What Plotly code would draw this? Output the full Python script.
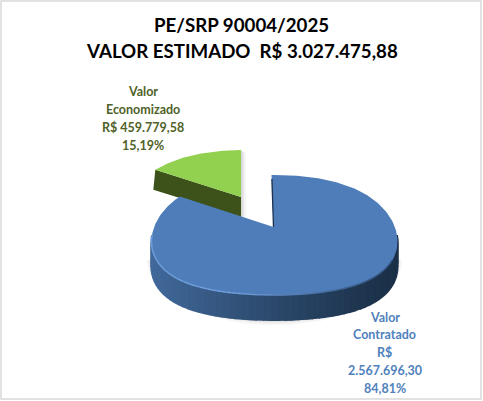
import numpy as np
import plotly.graph_objects as go

# Data
categories = ["Valor Contratado", "Valor Economizado"]
values = [2567696.30, 459779.58]
value_labels = [["R$", "2.567.696,30"], ["R$ 459.779,58"]]
percent_labels = ["84,81%", "15,19%"]
title_lines = ["PE/SRP 90004/2025", "VALOR ESTIMADO  R$ 3.027.475,88"]

W, H = 483, 401
total = sum(values)
sweep = [v / total * 2 * np.pi for v in values]

BLUE_TOP, GREEN_TOP = "#4f7db9", "#92d050"
GREEN_WALL = "#3c521a"
FONT = "Lato"


def mix(a, b, t):
    t = min(1, max(0, t))
    pa = [int(a[i:i + 2], 16) for i in (1, 3, 5)]
    pb = [int(b[i:i + 2], 16) for i in (1, 3, 5)]
    return "rgb(%d,%d,%d)" % tuple(round(x + (y - x) * t) for x, y in zip(pa, pb))


def ell(cx, cy, rx, ry, th, k=0.0, q=0.0):
    # k and q add a slight perspective: the far half of the disc is narrower
    c, s = np.cos(th), np.sin(th)
    return cx + rx * s * (1 - k * c), cy - ry * c - q * s * s * c


def poly(xs, ys, fill, line=None, width=0, opacity=1.0):
    return go.Scatter(
        x=list(xs), y=list(ys), mode="lines", fill="toself", fillcolor=fill,
        line=dict(color=line or fill, width=width), opacity=opacity,
        hoverinfo="skip", showlegend=False,
    )


fig = go.Figure()

# ---- slice geometry (pixel space) ----
b = dict(cx=274.5, cy=235, rx=122.5, ry=60, k=0.094, q=10)
depth_b = 25
apex = (273.5, 227)
g = dict(cx=241, cy=197, rx=105, ry=47)
depth_g = 20

# soft shadows
for grow, op in ((5, 0.04), (3, 0.05), (1.5, 0.07)):
    th = np.linspace(np.pi / 2, 3 * np.pi / 2, 60)
    x, y = ell(b["cx"], b["cy"] + depth_b, b["rx"] + grow, b["ry"] + grow, th)
    fig.add_trace(poly(x, y, "#000000", opacity=op))
    fig.add_trace(poly(
        [g["cx"], g["cx"] + grow, g["cx"] + grow, g["cx"]],
        [g["cy"] - 47, g["cy"] - 44, g["cy"] + depth_g + grow, g["cy"] + depth_g],
        "#000000", opacity=op))

# ---- green slice (pulled out) ----
th_g0 = 2 * np.pi - sweep[1]
th = np.linspace(th_g0, 2 * np.pi, 40)
xa, ya = ell(g["cx"], g["cy"], g["rx"], g["ry"], th)
xe, ye = ell(g["cx"], g["cy"], g["rx"], g["ry"], th_g0)
fig.add_trace(poly(
    [xe, g["cx"], g["cx"], xe - 2],
    [ye, g["cy"], g["cy"] + depth_g, ye + depth_g],
    GREEN_WALL))
fig.add_trace(poly([g["cx"], *xa], [g["cy"], *ya], GREEN_TOP))

# ---- blue slice ----
th_all = np.linspace(0, sweep[0], 240)
th_w = np.linspace(np.pi / 2, 3 * np.pi / 2, 60)
for t0, t1 in zip(th_w[:-1], th_w[1:]):
    x0, y0 = ell(th=t0, **b)
    x1, y1 = ell(th=t1, **b)
    pos = (b["cx"] + b["rx"] - (x0 + x1) / 2) / (2 * b["rx"])
    col = mix("#1b3048", "#41699a", pos ** 1.2)
    fig.add_trace(poly(
        [x0, x1, x1, x0], [y0, y1, y1 + depth_b, y0 + depth_b],
        col, line=col, width=2))

xa, ya = ell(th=th_all, **b)
fig.add_trace(poly([apex[0], xa[0] - 3, *xa], [apex[1], ya[0], *ya], BLUE_TOP))

# bevel highlight along the front rim
th_r = np.linspace(np.pi * 0.62, np.pi * 1.5, 70)
for t0, t1 in zip(th_r[:-1], th_r[1:]):
    x, y = ell(th=np.array([t0, t1]), **b)
    pos = (b["cx"] + b["rx"] - x.mean()) / (2 * b["rx"])
    col = mix("#2a4a73", "#6f9fdc", pos * 1.5)
    fig.add_trace(go.Scatter(x=x, y=y, mode="lines", line=dict(color=col, width=1.5),
                             hoverinfo="skip", showlegend=False))

# dark inner edge at the cut
fig.add_trace(go.Scatter(x=[xa[0] - 2.6, apex[0]], y=[ya[0] + 4, apex[1]], mode="lines",
                         line=dict(color="#1c3250", width=1.3),
                         hoverinfo="skip", showlegend=False))


def block(lines, x, y0, dy, size, color):
    return [
        dict(x=x, y=y0 + i * dy, text="<b>%s</b>" % t,
             font=dict(family=FONT, size=size, color=color),
             xref="x", yref="y", showarrow=False,
             xanchor="center", yanchor="middle", align="center")
        for i, t in enumerate(lines)
    ]


annotations = block(title_lines, 241.5, 25, 26, 18.7, "#000000")
annotations += block(categories[0].split(" ") + value_labels[0] + [percent_labels[0]],
                     384.5, 317, 17.8, 12.5, "#4f81bd")
annotations += block(categories[1].split(" ") + value_labels[1] + [percent_labels[1]],
                     143, 91.5, 18, 12.5, "#4f6228")

fig.update_layout(
    width=W, height=H, autosize=False,
    margin=dict(l=0, r=0, t=0, b=0),
    paper_bgcolor="#ffffff", plot_bgcolor="#ffffff",
    xaxis=dict(range=[0, W], visible=False, fixedrange=True),
    yaxis=dict(range=[H, 0], visible=False, fixedrange=True),
    annotations=annotations,
    shapes=[dict(type="rect", xref="x", yref="y", x0=1, y0=1, x1=W - 2, y1=H - 2,
                 line=dict(color="#d9d9d9", width=1.5))],
)
fig.write_html(
    "out.html",
    config=dict(displayModeBar=False),
    post_script="document.body.style.margin='0';document.body.style.overflow='hidden';",
)
